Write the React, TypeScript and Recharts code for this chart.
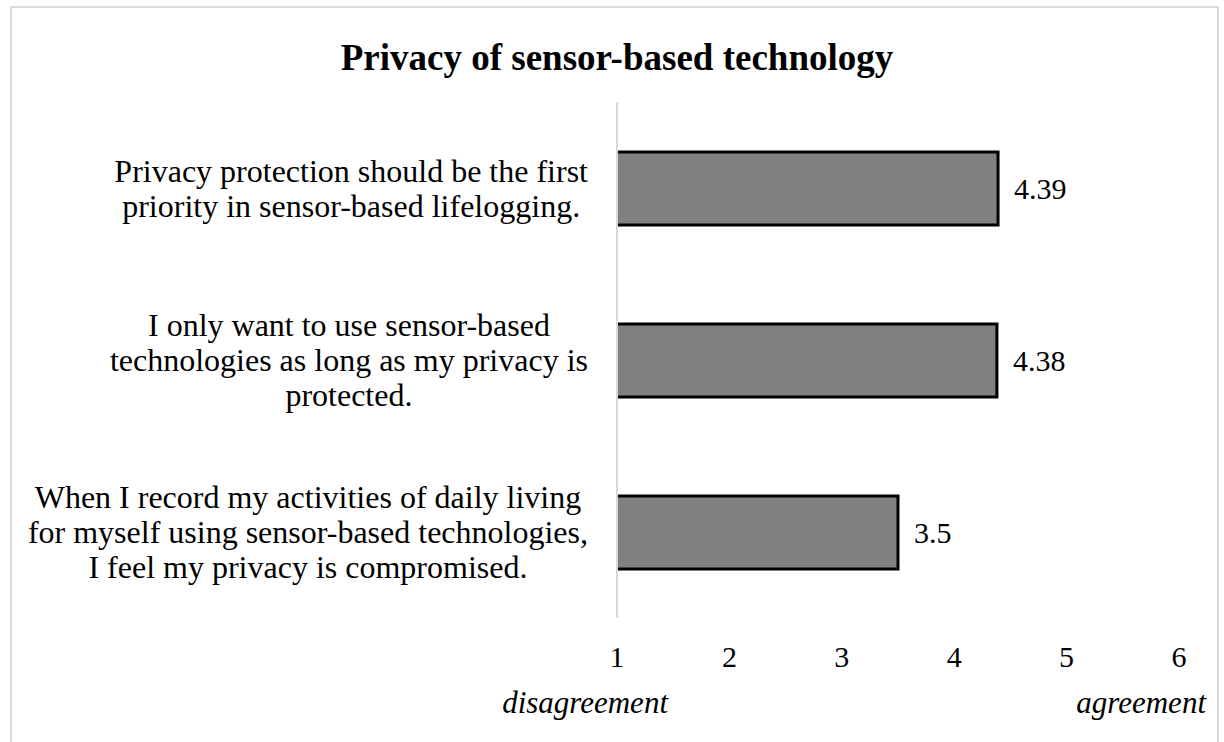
import { Bar, BarChart, LabelList, XAxis, YAxis } from "recharts"

const title = "Privacy of sensor-based technology"
const statements = [
  "Privacy protection should be the first\npriority in sensor-based lifelogging.",
  "I only want to use sensor-based\ntechnologies as long as my privacy is\nprotected.",
  "When I record my activities of daily living\nfor myself using sensor-based technologies,\nI feel my privacy is compromised.",
]
const scores = [4.39, 4.38, 3.5]
const xTicks = [1, 2, 3, 4, 5, 6]
const scaleEnds = ["disagreement", "agreement"]

const data = statements.map((label, i) => ({ label, score: scores[i] }))

const FONT = "'Liberation Serif', 'Times New Roman', serif"
const W = 1224
const H = 742
const PLOT_LEFT = 617
const PLOT_RIGHT = 1179
const PLOT_TOP = 102
const PLOT_BOTTOM = 618
const LABEL_SIZE = 32
const LINE_H = 35

let ctx: CanvasRenderingContext2D | null = null
function textWidth(s: string) {
  if (!ctx) {
    ctx = document.createElement("canvas").getContext("2d")
    if (ctx) ctx.font = `${LABEL_SIZE}px 'Liberation Serif'`
  }
  return ctx ? ctx.measureText(s).width : s.length * 14
}

// Excel-style wrapped label: lines centred, block pushed against the axis
function StatementTick(props: any) {
  const { y, payload } = props
  const lines = String(payload.value).split("\n")
  const blockW = Math.max(...lines.map(textWidth))
  const cx = 588 - blockW / 2
  const first = -((lines.length - 1) / 2) * LINE_H
  return (
    <text x={cx} y={y} textAnchor="middle" fontFamily={FONT} fontSize={LABEL_SIZE} fill="#000">
      {lines.map((l, i) => (
        <tspan key={i} x={cx} dy={i === 0 ? first + 11 : LINE_H}>
          {l}
        </tspan>
      ))}
    </text>
  )
}

function ScoreTick(props: any) {
  const { x, payload } = props
  return (
    <text x={x} y={667} textAnchor="middle" fontFamily={FONT} fontSize={30} fill="#000">
      {payload.value}
    </text>
  )
}

function OpenBar(props: any) {
  const { x, y, width, height } = props
  return (
    <g>
      <rect x={x} y={y} width={width} height={height} fill="#808080" />
      <path
        d={`M${x},${y}H${x + width}V${y + height}H${x}`}
        fill="none"
        stroke="#000"
        strokeWidth={3}
      />
    </g>
  )
}

export default function App() {
  return (
    <div style={{ position: "absolute", left: 0, top: 0, width: W, height: H, background: "#fff", overflow: "hidden" }}>
      <div
        style={{
          position: "absolute",
          left: 10,
          top: 6,
          width: 1205,
          height: 760,
          border: "2px solid #d9d9d9",
        }}
      />
      <BarChart
        width={W}
        height={H}
        data={data}
        layout="vertical"
        barSize={73}
        margin={{ top: PLOT_TOP, right: W - PLOT_RIGHT, bottom: H - PLOT_BOTTOM - 60, left: 0 }}
      >
        <XAxis
          type="number"
          domain={[1, 6]}
          ticks={xTicks}
          axisLine={false}
          tickLine={false}
          height={60}
          tick={<ScoreTick />}
          interval={0}
        />
        <YAxis
          type="category"
          dataKey="label"
          width={PLOT_LEFT}
          axisLine={{ stroke: "#d9d9d9", strokeWidth: 2 }}
          tickLine={false}
          tick={<StatementTick />}
          interval={0}
        />
        <Bar dataKey="score" shape={<OpenBar />} isAnimationActive={false}>
          <LabelList
            dataKey="score"
            position="right"
            offset={16}
            fontFamily={FONT}
            fontSize={30}
            fill="#000"
          />
        </Bar>
      </BarChart>
      <svg width={W} height={H} style={{ position: "absolute", left: 0, top: 0, pointerEvents: "none" }}>
        <text x={617} y={70} textAnchor="middle" fontFamily={FONT} fontWeight="bold" fontSize={37} fill="#000">
          {title}
        </text>
        <text x={668} y={713} textAnchor="end" fontFamily={FONT} fontStyle="italic" fontSize={31} fill="#000">
          {scaleEnds[0]}
        </text>
        <text x={1206} y={713} textAnchor="end" fontFamily={FONT} fontStyle="italic" fontSize={31} fill="#000">
          {scaleEnds[1]}
        </text>
      </svg>
    </div>
  )
}
